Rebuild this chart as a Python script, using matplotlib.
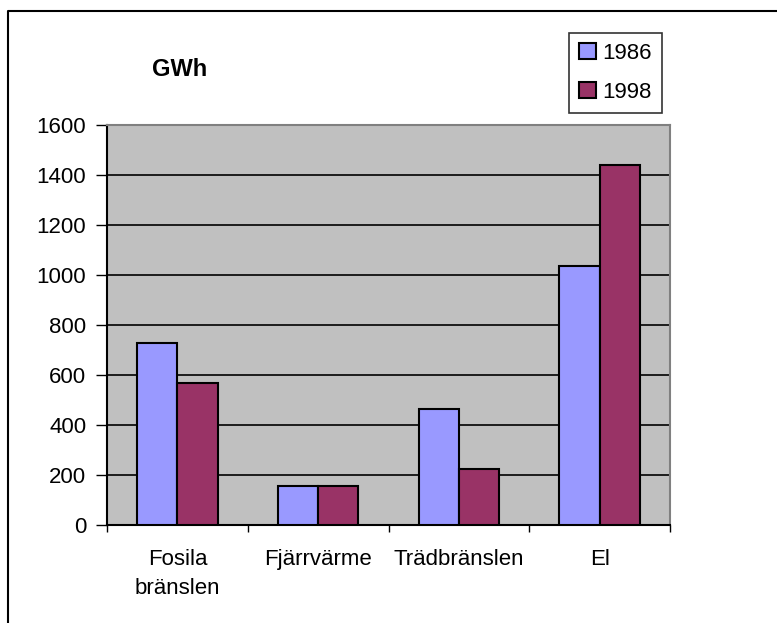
import matplotlib.pyplot as plt
import numpy as np
from matplotlib.lines import Line2D

plt.rcParams["font.family"] = ["Liberation Sans", "DejaVu Sans"]
FONT_SIZE = 16

# --- data (GWh) ---
categories = ["Fosila\nbränslen", "Fjärrvärme", "Trädbränslen", "El"]
years = ["1986", "1998"]
values_1986 = [730, 155, 464, 1035]
values_1998 = [570, 155, 224, 1440]

colors = {"1986": "#9999FF", "1998": "#993366"}

W, H = 777, 623
fig = plt.figure(figsize=(W / 100, H / 100), dpi=100)
ax = fig.add_axes([107 / W, 1 - 525 / H, 563 / W, 400 / H])
ax.set_facecolor("#C0C0C0")

x = np.arange(len(categories))
bw = 1 / 3.5
ax.bar(x - bw / 2, values_1986, width=bw, color=colors["1986"],
       edgecolor="black", linewidth=1.5, label="1986", zorder=3)
ax.bar(x + bw / 2, values_1998, width=bw, color=colors["1998"],
       edgecolor="black", linewidth=1.5, label="1998", zorder=3)

ax.set_xlim(-0.5, len(categories) - 0.5)
ax.set_ylim(0, 1600)
ax.set_yticks(np.arange(0, 1601, 200))
ax.yaxis.grid(True, color="black", linewidth=1.2, zorder=1)
ax.set_axisbelow(True)

# category boundaries get the ticks, names sit in between
ax.set_xticks(np.arange(-0.5, len(categories)), minor=False)
ax.set_xticklabels([])
ax.set_xticks(x, minor=True)
ax.set_xticklabels(categories, minor=True, fontsize=FONT_SIZE, linespacing=1.55)
ax.tick_params(axis="x", which="major", direction="out", length=5, width=1)
ax.tick_params(axis="x", which="minor", length=0, pad=17)
ax.tick_params(axis="y", direction="out", length=8, width=1, pad=7,
               labelsize=FONT_SIZE)

for side in ("left", "bottom"):
    ax.spines[side].set_color("black")
    ax.spines[side].set_linewidth(1.5)
for side in ("top", "right"):
    ax.spines[side].set_color("#808080")
    ax.spines[side].set_linewidth(1.5)

fig.text(152 / W, 1 - 70 / H, "GWh", fontsize=17, fontweight="bold",
         va="center", ha="left")

leg = fig.legend(loc="upper left", bbox_to_anchor=(569 / W, 1 - 33 / H),
                 fontsize=FONT_SIZE, frameon=True, fancybox=False,
                 handlelength=0.75, handleheight=0.75, handletextpad=0.3,
                 labelspacing=0.8, borderpad=0.45, borderaxespad=0)
leg.get_frame().set_edgecolor("black")
leg.get_frame().set_linewidth(1.2)
for patch in leg.get_patches():
    patch.set_edgecolor("black")
    patch.set_linewidth(1.5)

# outer chart frame (left and top edges)
fig.add_artist(Line2D([8 / W, 8 / W, 1], [0, 1 - 11 / H, 1 - 11 / H],
                      transform=fig.transFigure, color="black", linewidth=1.5))

fig.savefig("out.png", dpi=100)
